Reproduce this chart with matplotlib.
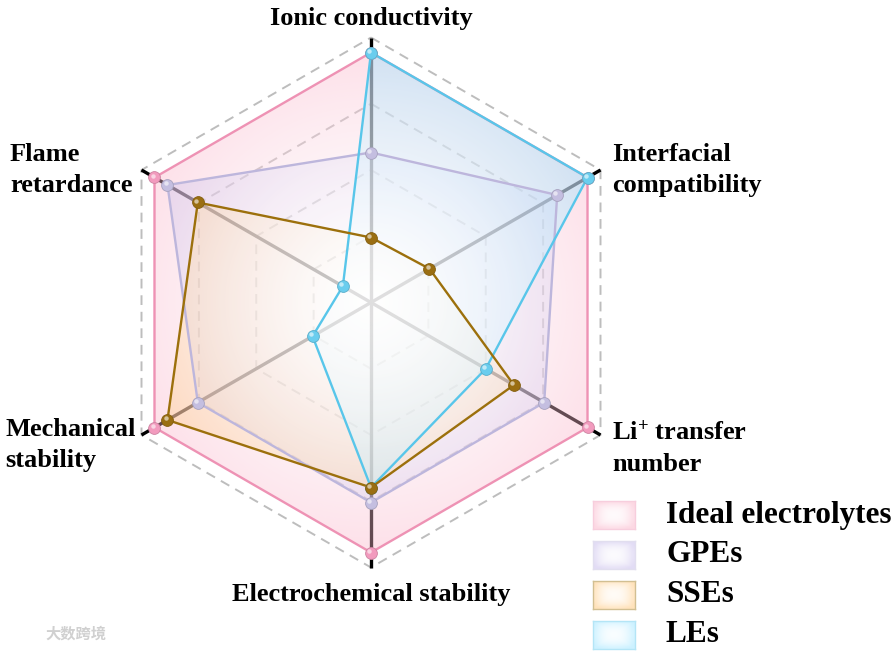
import numpy as np
import matplotlib
matplotlib.use("Agg")
import matplotlib.pyplot as plt
from matplotlib.image import AxesImage
from matplotlib import transforms as mtransforms

# ---------------- data ----------------
axis_labels = ["Ionic conductivity", "Interfacial\ncompatibility",
               "Li$^{+}$ transfer\nnumber", "Electrochemical stability",
               "Mechanical\nstability", "Flame\nretardance"]
series_names = ["Ideal electrolytes", "GPEs", "SSEs", "LEs"]
ideal_vals = [1.0, 1.0, 1.0, 1.0, 1.0, 1.0]
gpe_vals = [0.60, 0.86, 0.80, 0.80, 0.80, 0.94]
sse_vals = [0.26, 0.27, 0.66, 0.74, 0.94, 0.80]
le_vals = [1.0, 1.0, 0.53, 0.74, 0.27, 0.13]
grid_levels = [0.265, 0.53, 0.795, 1.06]

# ---------------- style ----------------
W, H = 896, 652
plt.rcParams["font.family"] = ["Liberation Serif", "DejaVu Serif"]
plt.rcParams["font.weight"] = "bold"
plt.rcParams["mathtext.fontset"] = "custom"
plt.rcParams["mathtext.rm"] = "Liberation Serif:bold"
plt.rcParams["mathtext.it"] = "Liberation Serif:bold"
plt.rcParams["mathtext.bf"] = "Liberation Serif:bold"
plt.rcParams["mathtext.default"] = "rm"

line_colors = ["#EE92B4", "#BDB6DC", "#9C700C", "#58C6EA"]
fill_colors = [(250, 178, 200), (198, 186, 235), (255, 198, 120), (155, 228, 255)]
ball_colors = ["#F29BBE", "#C4BEE0", "#9A6E12", "#6ACDEE"]
fill_alphas = [0.40, 0.40, 0.40, 0.45]

def px(x, y):
    return x / W, 1 - y / H

fig = plt.figure(figsize=(W / 100, H / 100), dpi=100)
cx, cy, R = 371, 302.5, 250.0
rmax = 1.1
half = R * rmax
ax = fig.add_axes([(cx - half) / W, (H - cy - half) / H, 2 * half / W, 2 * half / H],
                  projection="polar")
ax.set_theta_zero_location("N")
ax.set_theta_direction(-1)
ax.set_ylim(0, rmax)
ax.grid(False)
ax.set_xticks([])
ax.set_yticks([])
ax.spines["polar"].set_visible(False)
ax.patch.set_visible(False)

n = len(axis_labels)
theta = np.deg2rad(np.arange(n) * 360.0 / n)
theta_c = np.append(theta, theta[0])

def closed(v):
    return np.append(np.asarray(v, float), v[0])

# dashed grid hexagons
for lv in grid_levels:
    ax.plot(theta_c, [lv] * (n + 1), color="#BDBDBD", lw=1.4,
            ls=(0, (5, 3.5)), zorder=1)

# spokes
for th in theta:
    ax.plot([th, th], [0, grid_levels[-1]], color="black", lw=2.4,
            solid_capstyle="butt", zorder=1.2)

# gradient fills
N = 500
u = (np.arange(N) + 0.5) / N
U, V = np.meshgrid(u, u)
D = np.sqrt((U - 0.5) ** 2 + (V - 0.5) ** 2) * 2 * rmax
T = np.clip(D / 1.0, 0, 1) ** 1.6

all_vals = [ideal_vals, gpe_vals, sse_vals, le_vals]
for i, vals in enumerate(all_vals):
    poly = ax.fill(theta_c, closed(vals), facecolor="none", edgecolor="none")[0]
    c = np.array(fill_colors[i]) / 255.0
    rgba = np.ones((N, N, 4))
    for k in range(3):
        rgba[..., k] = (1 - T) * 1.0 + T * c[k]
    rgba[..., 3] = fill_alphas[i]
    im = AxesImage(ax, extent=(0, 1, 0, 1), origin="lower",
                   transform=ax.transAxes, interpolation="bilinear")
    im.set_data(rgba)
    im.set_zorder(2 + i * 0.1)
    im.set_clip_path(poly)
    ax.add_image(im)

# lines and balls
order = [0, 1, 3, 2]
hl_trans = mtransforms.offset_copy(ax.transData, fig=fig, x=-1.3, y=1.3, units="points")
for j, i in enumerate(order):
    vals = all_vals[i]
    ax.plot(theta_c, closed(vals), color=line_colors[i], lw=1.7, zorder=4 + j * 0.1)
for j, i in enumerate(order):
    vals = all_vals[i]
    base = np.array(matplotlib.colors.to_rgb(ball_colors[i]))
    ax.plot(theta, vals, ls="none", marker="o", ms=8.5,
            mfc=ball_colors[i], mec=tuple(base * 0.85), mew=0.6, zorder=6 + j * 0.1)
    hl = tuple(base * 0.35 + 0.65)
    ax.plot(theta, vals, ls="none", marker="o", ms=3.2, mfc=hl, mec="none",
            alpha=0.9, transform=hl_trans, zorder=6.05 + j * 0.1)

# axis labels (va='baseline' aligns the last line for multi-line text)
lab_fs = 19
ls_ = 1.45
fig.text(*px(371, 25), axis_labels[0], ha="center", va="baseline", fontsize=lab_fs, fontweight="bold")
fig.text(*px(612, 192), axis_labels[1], ha="left", va="baseline", fontsize=lab_fs,
         fontweight="bold", linespacing=ls_)
fig.text(*px(612, 471), axis_labels[2], ha="left", va="baseline", fontsize=lab_fs,
         fontweight="bold", linespacing=ls_)
fig.text(*px(371, 601), axis_labels[3], ha="center", va="baseline", fontsize=lab_fs, fontweight="bold")
fig.text(*px(5, 467), axis_labels[4], ha="left", va="baseline", fontsize=lab_fs,
         fontweight="bold", linespacing=ls_)
fig.text(*px(10, 192), axis_labels[5], ha="left", va="baseline", fontsize=lab_fs,
         fontweight="bold", linespacing=ls_)

# legend (manual, gradient swatches)
leg_y = [515, 555, 595, 635]
sw_w, sw_h = 42, 28
M = 60
xs = np.linspace(-1, 1, M)
X, Y = np.meshgrid(xs, xs)
Tl = np.clip(np.maximum(np.abs(X) * 1.15, np.abs(Y) * 1.15) ** 2.5, 0, 1) * 0.75 + 0.25
Tl = np.clip(0.5 * Tl + 0.5 * np.clip(np.sqrt(X ** 2 + Y ** 2) / 1.2, 0, 1) ** 2, 0, 1)
for i, name in enumerate(series_names):
    yc = leg_y[i]
    lax = fig.add_axes([593 / W, (H - yc - sw_h / 2) / H, sw_w / W, sw_h / H])
    c = np.array(fill_colors[i]) / 255.0
    rgba = np.ones((M, M, 4))
    for k in range(3):
        rgba[..., k] = (1 - Tl) + Tl * c[k]
    rgba[..., 3] = 0.5
    lax.imshow(rgba, extent=(0, 1, 0, 1), aspect="auto", interpolation="bilinear")
    lax.set_xticks([])
    lax.set_yticks([])
    ec = tuple(np.array(matplotlib.colors.to_rgb(line_colors[i])) * 0.45 + 0.55)
    for s in lax.spines.values():
        s.set_edgecolor(ec)
        s.set_linewidth(1.0)
    fig.text(*px(666, yc), name, ha="left", va="center", fontsize=22.5, fontweight="bold")

# watermark
fig.text(*px(45, 634), "大数跨境", ha="left", va="center", fontsize=11,
         family=["Noto Sans CJK SC", "DejaVu Sans"], color="#D0D0D0")

fig.savefig("out.png", dpi=100)
